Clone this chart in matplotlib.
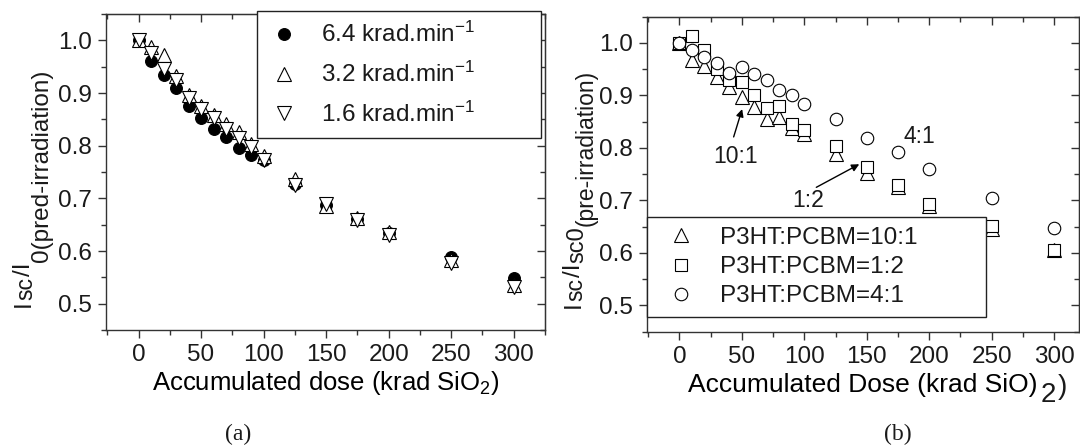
import numpy as np
import matplotlib.pyplot as plt
from matplotlib.ticker import MultipleLocator

plt.rcParams['font.family'] = ['Liberation Sans', 'DejaVu Sans']
plt.rcParams['mathtext.fontset'] = 'custom'
plt.rcParams['mathtext.rm'] = 'Liberation Sans'
plt.rcParams['mathtext.it'] = 'Liberation Sans:italic'
plt.rcParams['mathtext.bf'] = 'Liberation Sans:bold'
plt.rcParams['text.color'] = '#1a1a1a'

W, H = 1080, 448

# accumulated dose (krad SiO2)
dose = [0, 10, 20, 30, 40, 50, 60, 70, 80, 90, 100, 125, 150, 175, 200, 250, 300]

# (a) dose-rate series
rate_64 = [1.000, 0.960, 0.934, 0.910, 0.876, 0.852, 0.832, 0.816, 0.795, 0.782,
           0.772, 0.727, 0.688, 0.660, 0.635, 0.589, 0.549]
rate_32 = [1.000, 0.988, 0.972, 0.933, 0.897, 0.876, 0.858, 0.841, 0.825, 0.804,
           0.781, 0.737, 0.685, 0.662, 0.637, 0.583, 0.535]
rate_16 = [1.000, 0.976, 0.946, 0.924, 0.891, 0.870, 0.853, 0.832, 0.814, 0.797,
           0.772, 0.726, 0.689, 0.659, 0.631, 0.577, 0.532]
rate_labels = [r'6.4 krad.min$^{-1}$', r'3.2 krad.min$^{-1}$', r'1.6 krad.min$^{-1}$']

# (b) blend-ratio series
ratio_10_1 = [1.000, 0.968, 0.957, 0.935, 0.916, 0.897, 0.878, 0.855, 0.859, 0.838,
              0.827, 0.788, 0.753, 0.725, 0.690, 0.645, 0.606]
ratio_1_2 = [1.000, 1.013, 0.987, 0.951, 0.929, 0.925, 0.901, 0.876, 0.879, 0.845,
             0.834, 0.803, 0.763, 0.729, 0.694, 0.651, 0.605]
ratio_4_1 = [1.000, 0.987, 0.973, 0.962, 0.943, 0.954, 0.940, 0.930, 0.911, 0.901,
             0.884, 0.855, 0.819, 0.792, 0.760, 0.704, 0.648]
ratio_labels = ['P3HT:PCBM=10:1', 'P3HT:PCBM=1:2', 'P3HT:PCBM=4:1']

fig = plt.figure(figsize=(10.8, 4.48), dpi=100)
ax1 = fig.add_axes([106 / W, 1 - 330 / H, 439 / W, 316 / H])
ax2 = fig.add_axes([647 / W, 1 - 331.7 / H, 432 / W, 315 / H])

TICK_FS = 17.5
LAB_FS = 18.5
YLAB_FS = 17.5
LEG_FS = 17.5


def style_axes(ax, xmax):
    ax.set_xlim(-26, xmax)
    ax.set_ylim(0.45, 1.05)
    ax.xaxis.set_major_locator(MultipleLocator(50))
    ax.xaxis.set_minor_locator(MultipleLocator(25))
    ax.yaxis.set_major_locator(MultipleLocator(0.1))
    ax.yaxis.set_minor_locator(MultipleLocator(0.05))
    ax.yaxis.set_major_formatter(plt.FormatStrFormatter('%.1f'))
    for s in ax.spines.values():
        s.set_color('#333333')
        s.set_linewidth(1.0)
    ax.tick_params(which='both', direction='out', top=False, right=False,
                   colors='#333333', labelcolor='#1a1a1a', labelsize=TICK_FS, pad=4)
    ax.tick_params(which='major', length=6, width=1)
    ax.tick_params(which='minor', length=3.5, width=1)
    # inward ticks on the mirrored top / right axes
    top = ax.secondary_xaxis('top')
    top.xaxis.set_major_locator(MultipleLocator(50))
    top.xaxis.set_minor_locator(MultipleLocator(25))
    top.tick_params(which='both', direction='in', colors='#333333', labeltop=False)
    top.tick_params(which='major', length=6, width=1)
    top.tick_params(which='minor', length=3.5, width=1)
    right = ax.secondary_yaxis('right')
    right.yaxis.set_major_locator(MultipleLocator(0.1))
    right.yaxis.set_minor_locator(MultipleLocator(0.05))
    right.tick_params(which='both', direction='in', colors='#333333', labelright=False)
    right.tick_params(which='major', length=6, width=1)
    right.tick_params(which='minor', length=3.5, width=1)


def rich_text(x0, y0, pieces, vertical=False):
    """Write text pieces of mixed size/offset one after another (pixel coords)."""
    r = fig.canvas.get_renderer()
    pos = 0.0
    for s, size, dy, gap in pieces:
        pos += gap
        if vertical:
            x, y, rot = x0 - dy, y0 + pos, 90
        else:
            x, y, rot = x0 + pos, y0 + dy, 0
        t = fig.text(x / W, y / H, s, fontsize=size, rotation=rot,
                     rotation_mode='anchor', ha='left', va='baseline')
        bb = t.get_window_extent(r)
        pos += bb.height if vertical else bb.width


style_axes(ax1, 325)
style_axes(ax2, 320)

# ---- panel (a)
ax1.plot(dose, rate_64, 'o', ms=8.5, mfc='black', mec='black', mew=0.8,
         label=rate_labels[0], zorder=3)
ax1.plot(dose, rate_32, '^', ms=10, mfc='white', mec='black', mew=0.8,
         label=rate_labels[1], zorder=4)
ax1.plot(dose, rate_16, 'v', ms=10, mfc='white', mec='black', mew=0.8,
         label=rate_labels[2], zorder=5)
ax1.set_xlabel(r'Accumulated dose (krad SiO$_2$)', fontsize=LAB_FS, labelpad=2)
leg1 = ax1.legend(loc='upper left', bbox_to_anchor=(0.344, 1.009, 0.647, 0.0),
                  mode='expand', fontsize=LEG_FS, frameon=True, fancybox=False,
                  framealpha=1, edgecolor='#222222', numpoints=1,
                  handlelength=1.3, handletextpad=0.9, borderpad=0.45,
                  labelspacing=0.6, borderaxespad=0)
leg1.get_frame().set_linewidth(1.0)
leg1.set_zorder(10)

# ---- panel (b)
ax2.plot(dose, ratio_10_1, '^', ms=10, mfc='white', mec='black', mew=0.8,
         label=ratio_labels[0], zorder=3)
ax2.plot(dose, ratio_1_2, 's', ms=8, mfc='white', mec='black', mew=0.8,
         label=ratio_labels[1], zorder=4)
ax2.plot(dose, ratio_4_1, 'o', ms=9, mfc='white', mec='black', mew=0.8,
         label=ratio_labels[2], zorder=5)
xl = ax2.set_xlabel('Accumulated Dose (krad SiO)', fontsize=19, labelpad=4)
leg2 = ax2.legend(loc='lower left', bbox_to_anchor=(0.0, 0.046, 0.784, 0.0),
                  mode='expand', fontsize=LEG_FS, frameon=True, fancybox=False,
                  framealpha=1, edgecolor='#222222', numpoints=1,
                  handlelength=2.0, handletextpad=0.6, borderpad=0.4,
                  labelspacing=0.3, borderaxespad=0)
leg2.get_frame().set_linewidth(1.0)
leg2.set_zorder(10)

arrow = dict(arrowstyle='-|>', color='black', lw=1.0, mutation_scale=11,
             shrinkA=0, shrinkB=0)
ax2.annotate('', xy=(50.2, 0.874), xytext=(43.4, 0.821), arrowprops=arrow)
ax2.text(44.7, 0.783, '10:1', fontsize=16.5, ha='center', va='center')
ax2.annotate('', xy=(144, 0.769), xytext=(109.6, 0.725), arrowprops=arrow)
ax2.text(102.8, 0.699, '1:2', fontsize=16.5, ha='center', va='center')
ax2.text(192.5, 0.821, '4:1', fontsize=16.5, ha='center', va='center')

fig.canvas.draw()

# y-axis titles with Origin-style dropped subscripts: (text, size, drop, gap)
rich_text(30, H - 307, [('I', YLAB_FS, 0, 0), ('sc', 16.5, -2, 0.5),
                        ('/I', YLAB_FS, 0, 0.5),
                        ('0(pred-irradiation)', 17.5, -18, 1)], vertical=True)
rich_text(580, H - 308, [('I', YLAB_FS, 0, 0), ('sc', 16.5, -2, 0.5),
                         ('/I', YLAB_FS, 0, 0.5), ('sc0', 17, -3, 0.5),
                         ('(pre-irradiation)', 16.5, -13, 1)], vertical=True)

# odd trailing "2)" of the (b) axis title
bb = xl.get_window_extent(fig.canvas.get_renderer())
base = bb.y0 + 0.21 * 19 * 100 / 72
rich_text(bb.x1, base, [('2', 20, -10, 3), (')', 20, -2, 2)])

fig.text(238 / W, 1 - 434 / H, '(a)', fontsize=17, family='Liberation Serif',
         ha='center', va='center')
fig.text(898 / W, 1 - 434 / H, '(b)', fontsize=17, family='Liberation Serif',
         ha='center', va='center')

fig.savefig('out.png', dpi=100)
